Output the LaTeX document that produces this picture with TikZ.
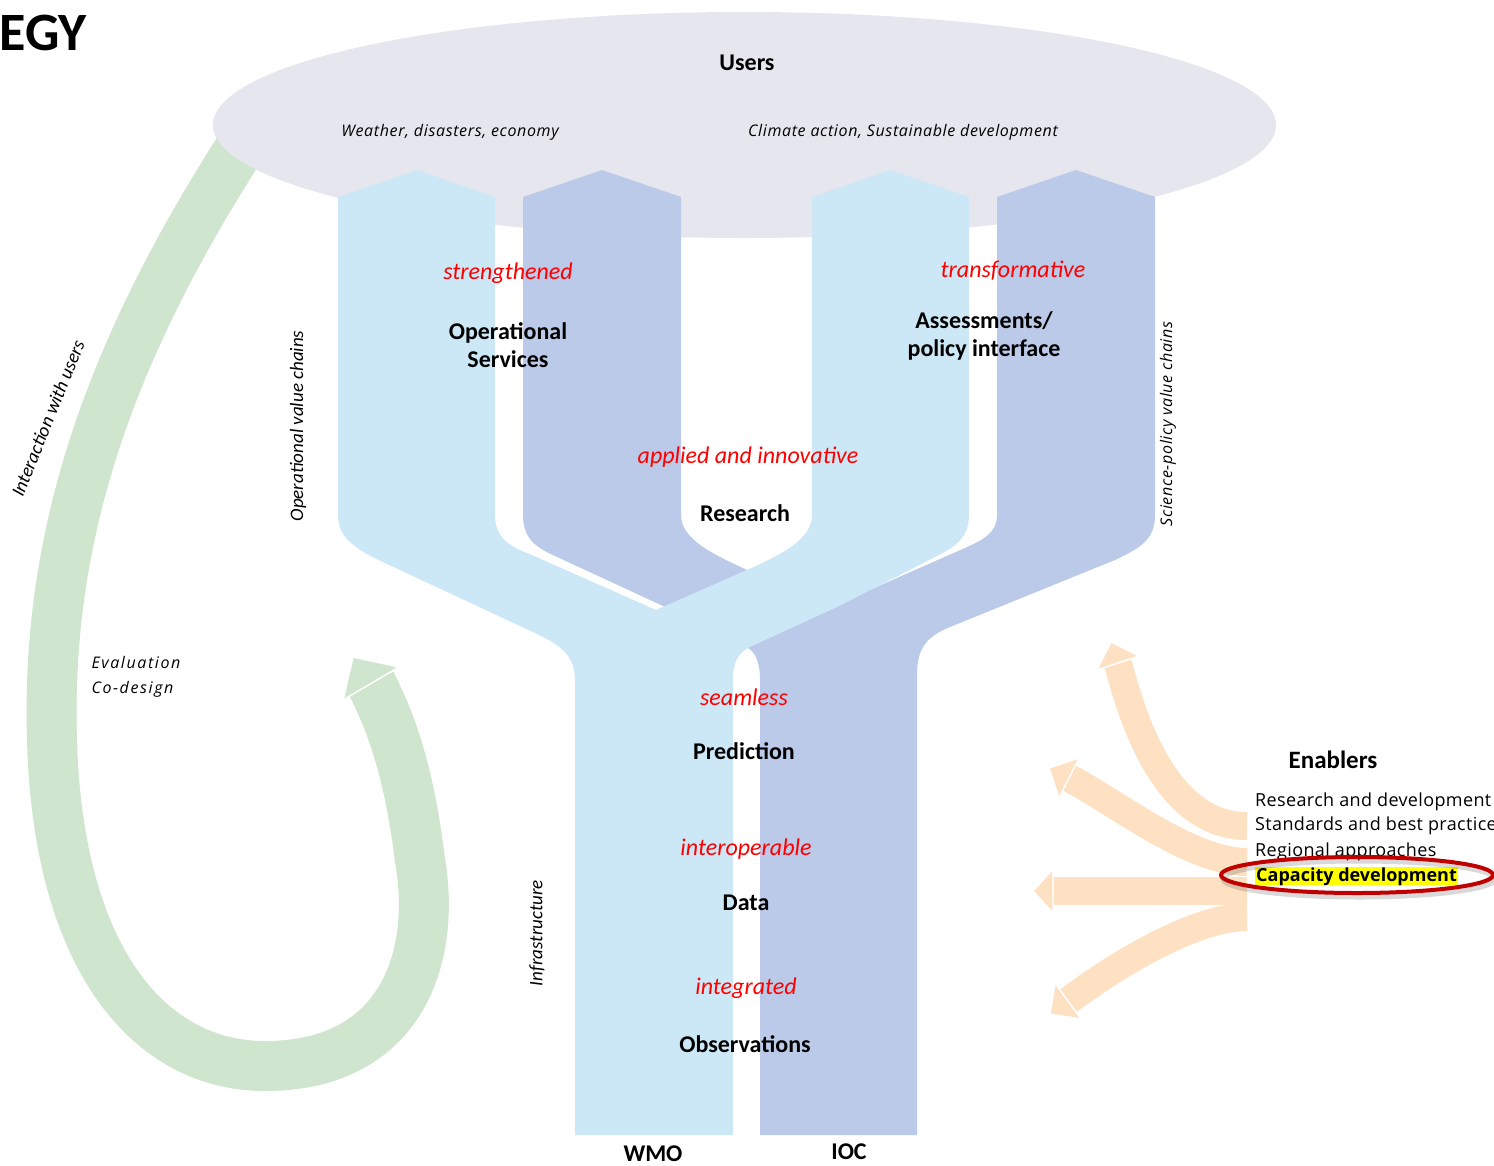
\documentclass[tikz,border=0pt]{standalone}
\usepackage{fontspec}
\setmainfont{Carlito}
\newfontfamily\opensans{Open Sans}
\definecolor{usergray}{RGB}{230,230,238}
\definecolor{wmoblue}{RGB}{204,232,246}
\definecolor{iocblue}{RGB}{186,202,232}
\definecolor{loopgreen}{RGB}{207,229,206}
\definecolor{enabcol}{RGB}{253,225,194}
\definecolor{circred}{RGB}{192,0,0}
\definecolor{hilite}{RGB}{255,255,0}
\begin{document}
\begin{tikzpicture}[x=1pt,y=-1pt,
  title/.style={font=\fontsize{24}{28}\selectfont\bfseries,align=center},
  quality/.style={font=\fontsize{24}{28}\selectfont\itshape,text=red},
  theme/.style={font=\opensans\fontsize{16}{25}\selectfont\itshape\addfontfeature{LetterSpace=4}},
  chain/.style={font=\fontsize{19}{22}\selectfont\itshape,rotate=#1},
  chain/.default=90,
  enabler/.style={font=\opensans\fontsize{18}{20}\selectfont\addfontfeature{LetterSpace=2},anchor=base west,inner sep=0pt},
  head/.style={draw=white,line width=1.5pt}]
\useasboundingbox (0,0) rectangle (1494,1165);
%\draw[gray,very thin] (0,0) grid[step=100] (1494,1165);
\node[font=\fontsize{54}{60}\selectfont\bfseries,anchor=base east,inner sep=0pt] (title) at (87,50) {EGY};
% interaction loop
\draw[loopgreen,line width=50pt] (255,125) .. controls (120,330) and (45,520) .. (52,740)
  .. controls (58,960) and (150,1066) .. (265,1066) .. controls (400,1066) and (437,960) .. (420,860)
  .. controls (410,780) and (395,730) .. (371,683);
\fill[loopgreen,head] (343,700) -- (353,657) -- (399,667) -- cycle;
% users
\fill[usergray] (744.5,125) ellipse [x radius=531.5, y radius=113];
% IOC
\fill[iocblue] (748,648) -- (663,606) -- (555,556) .. controls (535,547) and (523,538) .. (523,515)
  -- (523,197) -- (602,170) -- (681,197) -- (681,515) .. controls (681,540) and (715,555) .. (747,570)
  -- (840,603) -- (965,548) .. controls (985,539) and (997,532) .. (997,515)
  -- (997,197) -- (1076,170) -- (1155,197) -- (1155,515) .. controls (1155,540) and (1140,548) .. (1115,560)
  -- (950,627) .. controls (925,637) and (917,650) .. (917,675) -- (917,1135) -- (760,1135)
  -- (760,680) .. controls (760,662) and (755,652) .. (748,648) -- cycle;
% WMO
\fill[wmoblue] (575,1135) -- (575,680) .. controls (575,655) and (560,645) .. (535,633) -- (385,563)
  .. controls (350,547) and (338,535) .. (338,515) -- (338,197) -- (417,170) -- (495,197)
  -- (495,515) .. controls (495,538) and (510,547) .. (532,555) -- (656,610) -- (747,570)
  .. controls (780,555) and (812,540) .. (812,515) -- (812,197) -- (890,170) -- (969,197)
  -- (969,515) .. controls (969,538) and (955,547) .. (935,557) -- (837,607) -- (752,646)
  .. controls (738,652) and (733,662) .. (733,680) -- (733,1135) -- cycle;
% enablers
\draw[enabcol,line width=28pt] (1247,826) .. controls (1170,826) and (1135,730) .. (1118,663);
\draw[enabcol,line width=28pt] (1247,862) .. controls (1190,862) and (1114,801) .. (1069,778);
\draw[enabcol,line width=28pt] (1247,891) -- (1053,891);
\draw[enabcol,line width=28pt] (1247,917) .. controls (1195,917) and (1116,965) .. (1068,1001);
\fill[enabcol,head] (1139,656) -- (1111,642) -- (1097,670) -- cycle;
\fill[enabcol,head] (1079,758) -- (1049,768) -- (1059,798) -- cycle;
\fill[enabcol,head] (1053,869) -- (1033,891) -- (1053,913) -- cycle;
\fill[enabcol,head] (1081,1019) -- (1050,1014) -- (1055,983) -- cycle;

\node[title] (users) at (747,63) {Users};
\node[theme] (weather) at (450,132) {Weather, disasters, economy};
\node[theme] (climate) at (903,132) {Climate action, Sustainable development};
\node[quality] (strong) at (508,273) {strengthened};
\node[title] (opserv) at (508,345) {Operational\\Services};
\node[quality] (transf) at (1013,271) {transformative};
\node[title] (assess) at (984,336) {Assessments/\\policy interface};
\node[quality] (applied) at (748,457) {applied and innovative};
\node[title] (research) at (745,513) {Research};
\node[quality] (seamless) at (744,697) {seamless};
\node[title] (predict) at (744,751) {Prediction};
\node[quality] (interop) at (746,849) {interoperable};
\node[title] (data) at (746,903) {Data};
\node[quality] (integr) at (746,988) {integrated};
\node[title] (obs) at (745,1044) {Observations};
\node[title,inner sep=0pt] (wmo) at (653,1154) {WMO};
\node[title,inner sep=0pt] (ioc) at (849,1152) {IOC};

\node[chain] (opchain) at (298,426) {Operational value chains};
\node[chain,font=\opensans\fontsize{16}{17}\selectfont\itshape\addfontfeature{LetterSpace=4}] (scichain) at (1168,424) {Science-policy value chains};
\node[chain=68] (interact) at (48,418) {Interaction with users};
\node[chain] (infra) at (537,933) {Infrastructure};
\node[theme,align=left,anchor=north west,font=\opensans\fontsize{16}{25}\selectfont\itshape\addfontfeature{LetterSpace=10}] (evalco) at (88,653) {Evaluation\\Co-design};

\node[font=\fontsize{25}{30}\selectfont\bfseries] (enab) at (1333,760) {Enablers};
\node[enabler] (rnd) at (1255,806) {Research and development};
\node[enabler] (std) at (1255,830) {Standards and best practice};
\node[enabler] (reg) at (1255,856) {Regional approaches};
\node[enabler,font=\opensans\fontsize{18}{20}\selectfont\bfseries,fill=hilite,inner xsep=1pt] (cap) at (1255,881) {Capacity development};
\draw[black,opacity=0.15,line width=5pt] (1359,879) ellipse [x radius=136, y radius=18];
\draw[circred,line width=4pt] (1357,875) ellipse [x radius=136, y radius=18];
\end{tikzpicture}
\end{document}
